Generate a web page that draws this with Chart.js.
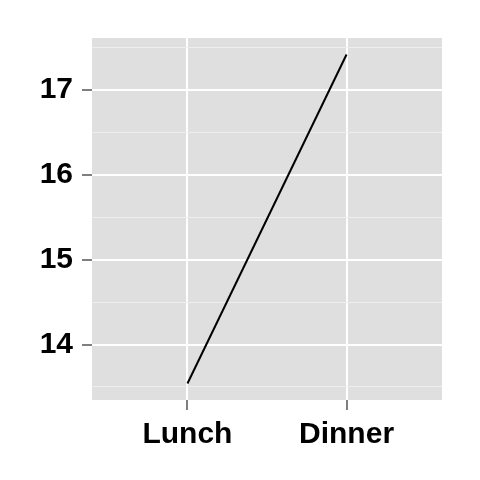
<!DOCTYPE html>
<html>
<head>
<meta charset="utf-8">
<script src="https://cdn.jsdelivr.net/npm/chart.js@4"></script>
<style>
html,body{margin:0;padding:0;background:#fff;}
#wrap{width:480px;height:480px;}
</style>
</head>
<body>
<div id="wrap"><canvas id="c" width="480" height="480"></canvas></div>
<script>
const categories = ["Lunch", "Dinner"];
const values = [13.54, 17.42];
const yMajorTicks = [14, 15, 16, 17];
const yMinorTicks = [13.5, 14.5, 15.5, 16.5, 17.5];
const yMin = 13.346, yMax = 17.614;
const xMin = -0.6, xMax = 1.6;

const panelBg = {
  id: 'panelBg',
  beforeDraw(chart) {
    const {ctx, chartArea: a} = chart;
    ctx.save();
    ctx.fillStyle = '#DFDFDF';
    ctx.fillRect(a.left, a.top, a.right - a.left, a.bottom - a.top);
    ctx.restore();
  }
};

const FONT = {family: 'Liberation Sans, Arial, Helvetica, sans-serif', size: 30, weight: 'bold'};
const isMajor = v => yMajorTicks.includes(v);

new Chart(document.getElementById('c'), {
  type: 'line',
  data: {
    datasets: [{
      data: categories.map((c, i) => ({x: i, y: values[i]})),
      borderColor: '#000000',
      borderWidth: 2,
      pointRadius: 0,
      fill: false,
      tension: 0
    }]
  },
  options: {
    responsive: false,
    animation: false,
    devicePixelRatio: 1,
    layout: {padding: {top: 38, right: 38, left: 0, bottom: 0}},
    plugins: {legend: {display: false}, tooltip: {enabled: false}},
    scales: {
      x: {
        type: 'linear',
        min: xMin, max: xMax,
        afterBuildTicks: s => { s.ticks = categories.map((c, i) => ({value: i})); },
        afterFit: s => { s.height = 80; },
        border: {display: false},
        grid: {color: '#FFFFFF', lineWidth: 2, tickColor: '#7F7F7F', tickWidth: 2, tickLength: 10, drawTicks: true},
        ticks: {
          color: '#000000', font: FONT, padding: 7, maxRotation: 0, autoSkip: false,
          callback: v => categories[v]
        }
      },
      y: {
        type: 'linear',
        min: yMin, max: yMax,
        afterBuildTicks: s => {
          s.ticks = yMinorTicks.concat(yMajorTicks).sort((a, b) => a - b).map(v => ({value: v}));
        },
        afterFit: s => { s.width = 92; },
        border: {display: false},
        grid: {
          color: ctx => isMajor(ctx.tick.value) ? '#FFFFFF' : '#EEEEEE',
          lineWidth: ctx => isMajor(ctx.tick.value) ? 2 : 1,
          tickColor: ctx => isMajor(ctx.tick.value) ? '#7F7F7F' : 'rgba(0,0,0,0)',
          tickWidth: 2, tickLength: 10, drawTicks: true
        },
        ticks: {
          color: '#000000', font: FONT, padding: 9, autoSkip: false,
          callback: v => isMajor(v) ? String(v) : ''
        }
      }
    }
  },
  plugins: [panelBg]
});
</script>
</body>
</html>
